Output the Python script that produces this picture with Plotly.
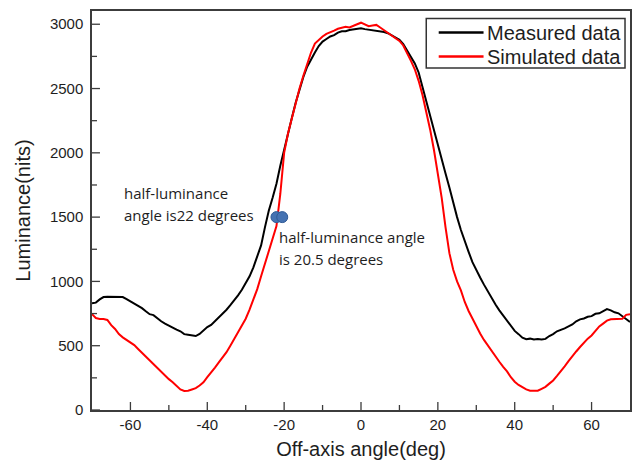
import plotly.graph_objects as go

# Luminance versus off-axis angle: measured profile
measured_angle = [-70, -69, -68, -67, -66, -64, -62, -61, -60, -59, -58, -57, -56, -55, -54,
                  -53, -52, -51, -50, -49, -48, -47, -46, -45, -44, -43, -42, -41, -40, -39,
                  -38, -37, -36, -35, -34, -33, -32, -31, -30, -29, -28, -27, -26, -25, -24,
                  -23, -22, -21, -20, -19, -18, -17, -16, -15, -14, -13, -12, -11, -10, -9,
                  -8, -7, -6, -5, -4, -3, -2, -1, 0, 1, 2, 3, 4, 5, 6, 7, 8, 9, 10, 11, 12,
                  13, 14, 15, 16, 17, 18, 19, 20, 21, 22, 23, 24, 25, 26, 27, 28, 29, 30, 31,
                  32, 33, 34, 35, 36, 37, 38, 39, 40, 41, 42, 43, 44, 45, 46, 47, 48, 49, 50,
                  51, 52, 53, 54, 55, 56, 57, 58, 59, 60, 61, 62, 63, 64, 65, 66, 67, 68, 69, 70]
measured_lum = [830, 835, 860, 878, 880, 880, 878, 862, 845, 825, 812, 792, 768, 745, 738,
                712, 690, 672, 655, 640, 625, 612, 590, 585, 578, 575, 592, 618, 645, 662,
                690, 718, 748, 780, 815, 852, 892, 935, 985, 1040, 1110, 1190, 1280, 1420, 1550,
                1650, 1760, 1900, 2030, 2150, 2270, 2390, 2500, 2590, 2670, 2730, 2780, 2830, 2865, 2885,
                2905, 2915, 2935, 2945, 2945, 2955, 2960, 2965, 2968, 2962, 2958, 2950, 2950, 2945, 2940, 2930, 2915, 2900, 2880, 2845, 2795,
                2745, 2695, 2625, 2510, 2400, 2280, 2170, 2060, 1950, 1840, 1730, 1610, 1500, 1400, 1310, 1230, 1150, 1085, 1030,
                975, 920, 865, 820, 775, 735, 690, 650, 615, 590, 562, 550, 555, 548, 552, 548, 553, 575, 590,
                612, 622, 635, 650, 665, 690, 705, 712, 725, 730, 748, 752, 770, 785, 775, 760, 752, 730, 712, 685]

# Simulated profile
simulated_angle = list(range(-70, 71))
simulated_lum = [745, 715, 708, 708, 700, 660, 630, 590, 565, 545, 525, 505, 475, 445, 415,
                 385, 355, 325, 300, 270, 240, 215, 185, 160, 148, 150, 160, 170, 190, 215,
                 255, 290, 330, 370, 410, 450, 500, 550, 600, 650, 710, 780, 860, 940, 1040,
                 1140, 1240, 1330, 1430, 1680, 2000, 2150, 2270, 2390, 2500, 2600, 2690, 2780, 2850, 2880,
                 2905, 2925, 2935, 2950, 2965, 2970, 2980, 2975, 2990, 3000, 3012, 2998, 2985, 2990, 2995,
                 2975, 2955, 2935, 2915, 2895, 2870, 2835, 2780, 2715, 2650, 2560, 2450, 2320, 2180, 2020,
                 1850, 1650, 1420, 1220, 1090, 1000, 930, 840, 770, 710, 650, 595, 545, 500, 455,
                 415, 375, 335, 300, 255, 220, 195, 175, 160, 150, 148, 150, 165, 180, 205,
                 230, 265, 300, 340, 380, 420, 455, 490, 525, 555, 580, 615, 650, 672, 695,
                 705, 705, 705, 710, 740, 745]

# Half-luminance points
half_angle = [-22, -20.5]
half_lum = [1500, 1500]

x_ticks = [-60, -40, -20, 0, 20, 40, 60]
x_tick_labels = ["-60", "-40", "-20", "0", "20", "40", "60"]
x_minor = [-50, -30, -10, 10, 30, 50]
y_ticks = [0, 500, 1000, 1500, 2000, 2500, 3000]
y_tick_labels = ["0", "500", "1000", "1500", "2000", "2500", "3000"]
y_minor = [250, 750, 1250, 1750, 2250, 2750]

series_names = ["Measured data", "Simulated data"]
series_colors = ["#000000", "#ff0000"]

FRAME = "#3c3c3c"
TEXT = "#1e1e1e"

PLOT_L, PLOT_T, PLOT_W, PLOT_H = 92, 11, 540, 399

fig = go.Figure()
fig.add_trace(go.Scatter(x=measured_angle, y=measured_lum, mode="lines", name=series_names[0],
                         line=dict(color=series_colors[0], width=2), showlegend=False))
fig.add_trace(go.Scatter(x=simulated_angle, y=simulated_lum, mode="lines", name=series_names[1],
                         line=dict(color=series_colors[1], width=2), showlegend=False))
fig.add_trace(go.Scatter(x=half_angle, y=half_lum, mode="markers", showlegend=False,
                         marker=dict(color="#4572b2", size=11,
                                     line=dict(color="#2f5a96", width=1))))

note_font = dict(family="Open Sans", size=15, color=TEXT)
notes = [
    (-62.1, 1689, "half-luminance"),
    (-62.1, 1519, "angle is22 degrees"),
    (-21.8, 1345, "half-luminance angle"),
    (-21.8, 1178, "is 20.5 degrees"),
]
for nx, ny, txt in notes:
    fig.add_annotation(x=nx, y=ny, text=txt, showarrow=False, xanchor="left",
                       yanchor="middle", font=note_font)

# Inward tick marks on the bottom and left axes
MAJOR_LEN, MINOR_LEN = 8, 5
for vals, length in ((x_ticks, MAJOR_LEN), (x_minor, MINOR_LEN)):
    for v in vals:
        fig.add_shape(type="line", xref="x", yref="paper", x0=v, x1=v, y0=0, y1=length / PLOT_H,
                      line=dict(color=FRAME, width=1.3), layer="above")
for vals, length in ((y_ticks, MAJOR_LEN), (y_minor, MINOR_LEN)):
    for v in vals:
        fig.add_shape(type="line", xref="paper", yref="y", x0=0, x1=length / PLOT_W, y0=v, y1=v,
                      line=dict(color=FRAME, width=1.3), layer="above")


# Boxed legend in the upper right corner (paper coordinates)
def px_to_paper(px, py):
    return (px - PLOT_L) / PLOT_W, (PLOT_T + PLOT_H - py) / PLOT_H


bx0, by0 = px_to_paper(427.5, 18.5)
bx1, by1 = px_to_paper(627, 68)
fig.add_shape(type="rect", xref="paper", yref="paper", x0=bx0, y0=by1, x1=bx1, y1=by0,
              line=dict(color="#333333", width=1.5), fillcolor="white", layer="above")
for i, (name, color) in enumerate(zip(series_names, series_colors)):
    row_y = 32.5 + 24 * i
    lx0, ly = px_to_paper(440, row_y)
    lx1, _ = px_to_paper(485, row_y)
    fig.add_shape(type="line", xref="paper", yref="paper", x0=lx0, y0=ly, x1=lx1, y1=ly,
                  line=dict(color=color, width=2.5), layer="above")
    tx, _ = px_to_paper(486, row_y)
    fig.add_annotation(xref="paper", yref="paper", x=tx, y=ly, text=name, showarrow=False,
                       xanchor="left", yanchor="middle",
                       font=dict(family="Liberation Sans", size=20, color=TEXT))

axis_common = dict(
    showline=True, linecolor=FRAME, linewidth=1.5, mirror=True,
    tickmode="array", ticks="", showgrid=False, zeroline=False,
    tickfont=dict(family="Liberation Sans", size=15, color=TEXT),
)

fig.update_xaxes(
    range=[-70, 70], tickvals=x_ticks, ticktext=x_tick_labels,
    title=dict(text="Off-axis angle(deg)", font=dict(family="Liberation Sans", size=20, color=TEXT),
               standoff=10),
    **axis_common,
)
fig.update_yaxes(
    range=[0, 3103], tickvals=y_ticks, ticktext=y_tick_labels, ticklabelstandoff=4,
    title=dict(text="Luminance(nits)", font=dict(family="Liberation Sans", size=20, color=TEXT),
               standoff=14),
    **axis_common,
)

fig.update_layout(
    width=635, height=463,
    margin=dict(l=92, r=3, t=11, b=53),
    paper_bgcolor="white", plot_bgcolor="white",
    showlegend=False,
)

fig.write_html("out.html")
